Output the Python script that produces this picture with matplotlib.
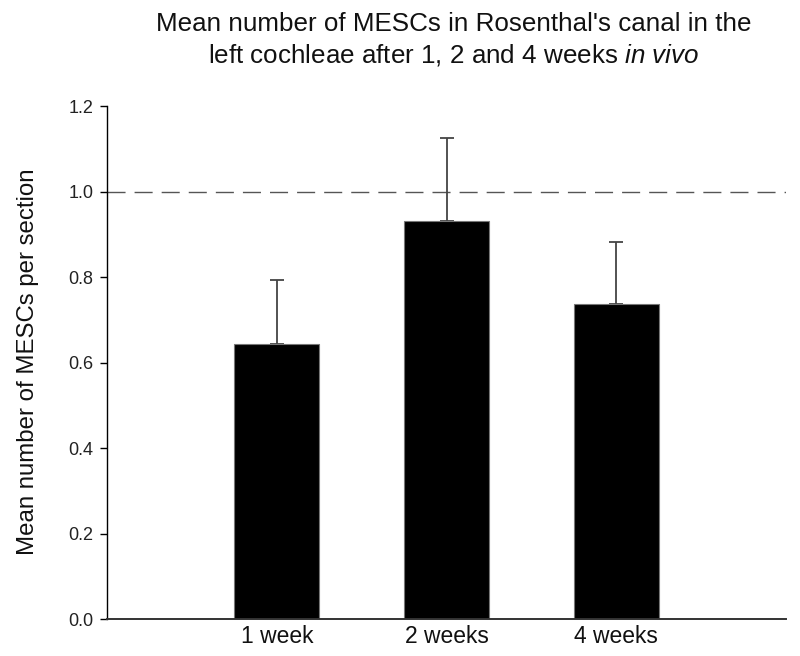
import numpy as np
import matplotlib
matplotlib.use("Agg")
import matplotlib.pyplot as plt

# data
groups = ["1 week", "2 weeks", "4 weeks"]
means = [0.643, 0.932, 0.738]
sem_up = [0.150, 0.193, 0.145]
sem_down = [0.0, 0.0, 0.0]
reference_level = 1.0
yticks = [0.0, 0.2, 0.4, 0.6, 0.8, 1.0, 1.2]

plt.rcParams["font.family"] = ["Liberation Sans", "DejaVu Sans"]
plt.rcParams["mathtext.fontset"] = "custom"
plt.rcParams["mathtext.rm"] = "Liberation Sans"
plt.rcParams["mathtext.it"] = "Liberation Sans:italic"

fig = plt.figure(figsize=(8, 6.56), dpi=100)
ax = fig.add_axes([0.134, 0.0564, 0.8485, 0.782])

pos = np.arange(1, len(groups) + 1)
ax.bar(pos, means, width=0.5, color="black", edgecolor="#777777", linewidth=0.8, zorder=2)
ax.errorbar(pos, means, yerr=[sem_down, sem_up], fmt="none", ecolor="#444444",
            elinewidth=1.3, capsize=4.7, capthick=1.3, zorder=1)
ax.axhline(reference_level, color="#555555", lw=1.0, ls=(0, (13, 6.5)), zorder=0)

ax.set_xlim(0, 4)
ax.set_ylim(0, 1.2)
ax.set_yticks(yticks)
ax.set_yticklabels([f"{v:.1f}" for v in yticks], fontsize=13, color="#222222")
ax.set_xticks(pos)
ax.set_xticklabels(groups, fontsize=16.5, color="#111111")
ax.tick_params(axis="x", length=0, pad=4)
ax.tick_params(axis="y", direction="out", length=5, width=1.0, pad=5)

ax.spines["top"].set_visible(False)
ax.spines["right"].set_visible(False)
ax.spines["left"].set_linewidth(1.0)
ax.spines["bottom"].set_linewidth(1.4)
ax.spines["bottom"].set_color("#333333")

fig.text(28 / 800, 1 - 362 / 656, "Mean number of MESCs per section", rotation=90,
         ha="center", va="center", fontsize=17.3, color="#111111")

fig.text(0.567, 1 - 31 / 656, "Mean number of MESCs in Rosenthal's canal in the",
         ha="center", va="baseline", fontsize=18.7, color="#111111")
fig.text(0.567, 1 - 62 / 656, r"left cochleae after 1, 2 and 4 weeks $\mathit{in\ vivo}$",
         ha="center", va="baseline", fontsize=18.7, color="#111111")

fig.savefig("out.png", dpi=100)
